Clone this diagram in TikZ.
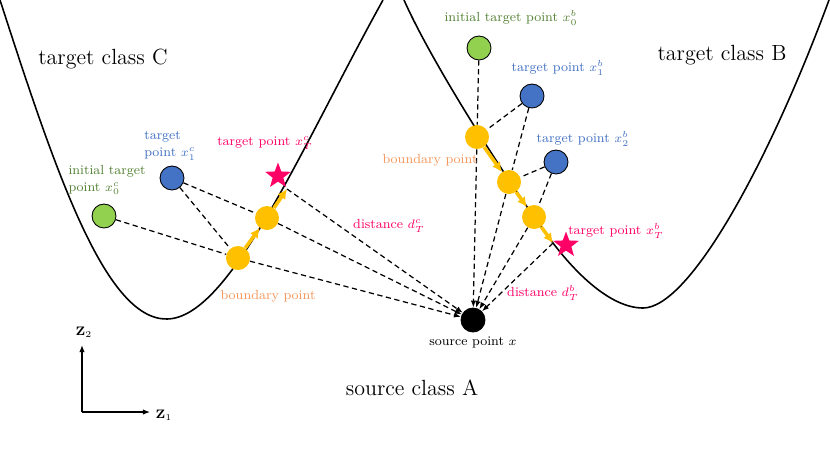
\documentclass[tikz,border=0pt]{standalone}
\usepackage{amsmath, amssymb}
\usepackage{xcolor}
\usepackage{tikz}
\usetikzlibrary{calc, shapes.geometric, positioning, arrows.meta}

\definecolor{ptgreen}{RGB}{146,208,80}
\definecolor{ptblue}{RGB}{68,114,196}
\definecolor{ptyellow}{RGB}{255,192,0}
\definecolor{ptpink}{RGB}{255,0,102}
\definecolor{txtgreen}{RGB}{84,130,53}
\definecolor{txtorange}{RGB}{244,150,90}

\tikzset{
    pt/.style={circle, draw=black, line width=0.5pt, minimum size=0.48cm, inner sep=0pt},
    bnd/.style={circle, fill=ptyellow, minimum size=0.48cm, inner sep=0pt},
    tgt/.style={star, star points=5, star point ratio=2.4, fill=ptpink, minimum size=0.54cm, inner sep=0pt},
    lbl/.style={font=\fontsize{7.5}{9.8}\selectfont, inner sep=1pt},
    cls/.style={font=\fontsize{12.5}{14}\selectfont, inner sep=1pt},
    link/.style={dash pattern=on 3pt off 2pt, line width=0.7pt},
    dist/.style={link, -{Latex[length=4pt, width=3pt]}},
    move/.style={ptyellow, line width=2pt, -{Latex[length=5.5pt, width=5.5pt]}}
}

\begin{document}
\begin{tikzpicture}[x=0.02cm, y=-0.02cm]
    \useasboundingbox (0,0) rectangle (830,467);

    % Vẽ các biên lớp
    \draw[line width=0.9pt] (0,0) .. controls (55,170) and (105,320) .. (167,319)
        .. controls (230,318) and (300,150) .. (383,0);
    \draw[line width=0.9pt] (404,0) .. controls (435,70) and (520,200) .. (553,243)
        .. controls (575,272) and (610,308) .. (643,308)
        .. controls (690,308) and (770,160) .. (829,0);

    % Lớp C
    \node[pt, fill=ptgreen] (c0) at (104,216) {};
    \node[pt, fill=ptblue] (c1) at (172,178) {};
    \node[bnd] (cb1) at (238,258) {};
    \node[bnd] (cb2) at (267,218) {};
    \node[tgt] (cT) at (278,176) {};
    \coordinate (cE) at (287,189);

    % Lớp B
    \node[pt, fill=ptgreen] (b0) at (479,48) {};
    \node[pt, fill=ptblue] (b1) at (532,96) {};
    \node[pt, fill=ptblue] (b2) at (556,162) {};
    \node[bnd] (bb1) at (477,137) {};
    \node[bnd] (bb2) at (509,182) {};
    \node[bnd] (bb3) at (534,217) {};
    \node[tgt] (bT) at (566,245) {};
    \coordinate (bE) at (553,243);

    % Điểm nguồn
    \node[pt, fill=black] (src) at (473,320) {};

    % Các đường nối
    \draw[link] (c0) -- (cb1);
    \draw[link] (c1) -- (cb1);
    \draw[link] (c1) -- (cb2);
    \draw[dist] (cb1) -- (src);
    \draw[dist] (cb2) -- (src);
    \draw[dist] (cE) -- (src);

    \draw[link] (b0) -- (bb1);
    \draw[link] (b1) -- (bb1);
    \draw[link] (b1) -- (bb2);
    \draw[link] (b2) -- (bb2);
    \draw[link] (b2) -- (bb3);
    \draw[dist] (bb1) -- (src);
    \draw[dist] (bb2) -- (src);
    \draw[dist] (bb3) -- (src);
    \draw[dist] (bE) -- (src);

    \draw[move] (cb1) -- (cb2);
    \draw[move] (cb2) -- (cE);
    \draw[move] (bb1) -- (bb2);
    \draw[move] (bb2) -- (bb3);
    \draw[move] (bb3) -- (bE);

    % Nhãn
    \node[lbl, txtgreen, align=left] (l0c) at (107,180) {initial target\\point $x_0^c$};
    \node[lbl, ptblue, align=left] (l1c) at (170,146) {target\\point $x_1^c$};
    \node[lbl, ptpink] (lTc) at (265,143) {target point $x_T^c$};
    \node[lbl, txtorange] (lbc) at (268,296) {boundary point};
    \node[lbl, ptpink] (ldc) at (389,226) {distance $d_T^c$};

    \node[lbl, txtgreen] (l0b) at (511,18) {initial target point $x_0^b$};
    \node[lbl, ptblue] (l1b) at (558,68) {target point $x_1^b$};
    \node[lbl, ptblue] (l2b) at (583,139) {target point $x_2^b$};
    \node[lbl, txtorange] (lbb) at (430,160) {boundary point};
    \node[lbl, ptpink] (lTb) at (616,231) {target point $x_T^b$};
    \node[lbl, ptpink] (ldb) at (543,293) {distance $d_T^b$};

    \node[lbl] (lsrc) at (473,342) {source point $x$};

    \node[cls] (clsC) at (103,59) {target class C};
    \node[cls] (clsB) at (722,55) {target class B};
    \node[cls] (clsA) at (412,388) {source class A};

    % Hệ trục
    \coordinate (zo) at (82,412);
    \coordinate (zy) at (82,345);
    \coordinate (zx) at (150,412);
    \draw[line width=0.6pt, -{Latex[length=4pt, width=3pt]}] (zo) -- (zy);
    \draw[line width=0.6pt, -{Latex[length=4pt, width=3pt]}] (zo) -- (zx);
    \node[lbl] (z2) at (84,332) {$\mathbf{Z}_2$};
    \node[lbl] (z1) at (164,415) {$\mathbf{Z}_1$};
\end{tikzpicture}
\end{document}
